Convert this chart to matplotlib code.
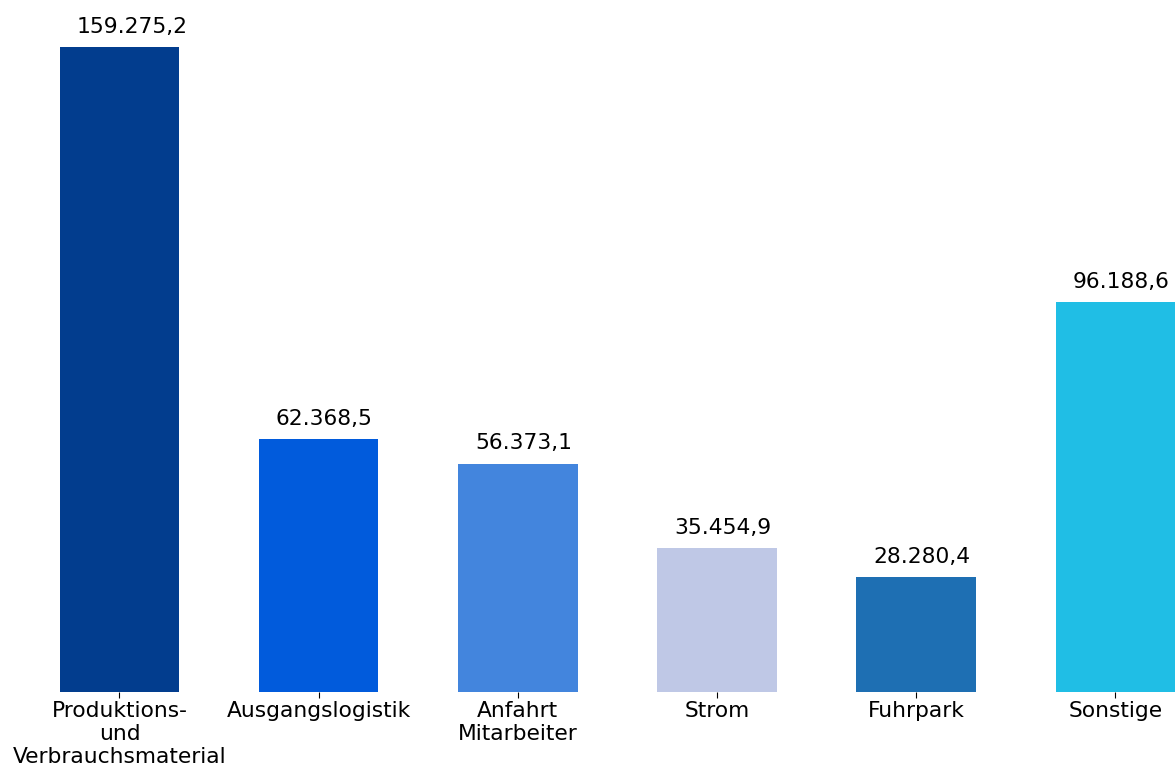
import matplotlib
matplotlib.use("Agg")
import matplotlib.pyplot as plt

categories = ["Produktions-\nund\nVerbrauchsmaterial", "Ausgangslogistik", "Anfahrt\nMitarbeiter",
              "Strom", "Fuhrpark", "Sonstige"]
values = [159275.2, 62368.5, 56373.1, 35454.9, 28280.4, 96188.6]
labels = ["159.275,2", "62.368,5", "56.373,1", "35.454,9", "28.280,4", "96.188,6"]
colors = ["#023d8e", "#015bdc", "#4385dd", "#bfc8e6", "#1e6fb3", "#20bee5"]

fig = plt.figure(figsize=(11.75, 7.71), dpi=100)
ax = fig.add_axes([0, 79 / 771, 1, 692 / 771])
x = list(range(len(values)))
ax.bar(x, values, width=0.6, color=colors)
ax.set_xlim(-0.6, 5.3)
ax.set_ylim(0, 170880)
for xi, v, lab in zip(x, values, labels):
    ax.annotate(lab, (xi - 0.215, v), xytext=(0, 7.5), textcoords="offset points",
                ha="left", va="bottom", fontsize=15.7)
ax.set_xticks(x)
ax.set_xticklabels(categories, fontsize=15.7, linespacing=1.2)
ax.tick_params(axis="x", length=4, width=0.8, pad=2.5)
ax.set_yticks([])
for s in ax.spines.values():
    s.set_visible(False)
fig.savefig("out.png", dpi=100)
